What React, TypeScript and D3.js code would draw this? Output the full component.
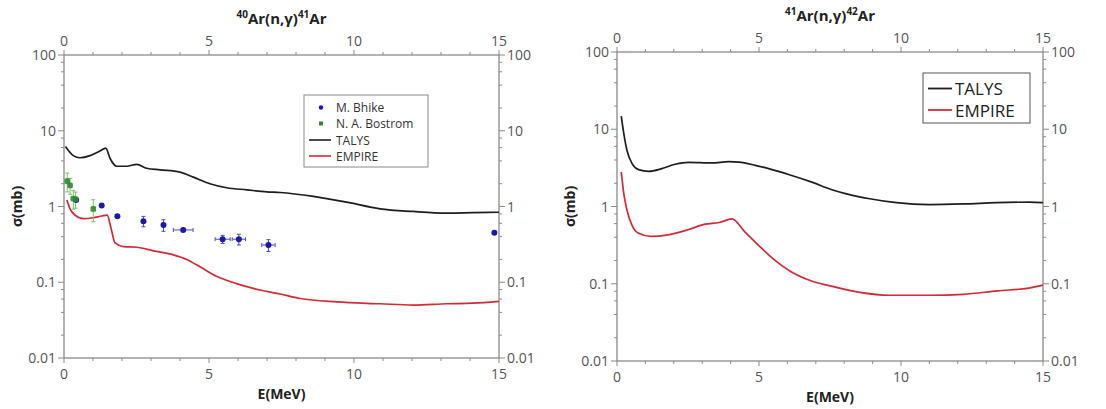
import React from "react";
import * as d3 from "d3";

// ---------- data ----------
const xTicksMajor = [0, 5, 10, 15];
const xTicksMinor = [1, 2, 3, 4, 6, 7, 8, 9, 11, 12, 13, 14];
const yTicksMajor = [0.01, 0.1, 1, 10, 100];
const yTickLabels = ["0.01", "0.1", "1", "10", "100"];
const yMinorMult = [2, 4, 6, 8];

// 40Ar(n,g)41Ar
const talys40E = [0.05, 0.32, 0.55, 0.9, 1.24, 1.44, 1.59, 1.82, 2.16, 2.51, 2.85, 3.31, 4.0, 4.46, 5.03, 5.61, 6.3, 6.99, 7.45, 8.6, 9.75, 10.9, 12.04, 13.2, 14.1, 15];
const talys40 = [6.2, 4.7, 4.4, 4.7, 5.4, 5.9, 4.3, 3.4, 3.4, 3.6, 3.2, 3.05, 2.84, 2.44, 2.0, 1.77, 1.66, 1.56, 1.53, 1.36, 1.14, 0.93, 0.86, 0.82, 0.83, 0.84];
const empire40E = [0.1, 0.21, 0.38, 0.67, 1.01, 1.3, 1.49, 1.61, 1.76, 2.05, 2.51, 3.08, 3.77, 4.23, 4.69, 5.26, 5.95, 6.76, 7.45, 8.14, 9.4, 10.9, 12.04, 13.2, 14.1, 15];
const empire40 = [1.22, 0.93, 0.77, 0.69, 0.71, 0.75, 0.77, 0.54, 0.33, 0.295, 0.29, 0.26, 0.23, 0.2, 0.16, 0.12, 0.096, 0.079, 0.07, 0.061, 0.055, 0.052, 0.05, 0.052, 0.053, 0.056];

const bhikeE = [0.42, 1.3, 1.84, 2.74, 3.43, 4.11, 5.47, 6.03, 7.05, 14.84];
const bhike = [1.22, 1.03, 0.745, 0.64, 0.57, 0.49, 0.37, 0.37, 0.31, 0.45];
const bhikeYErr = [0, 0, 0, 0.1, 0.1, 0.02, 0.045, 0.06, 0.055, 0];
const bhikeXErr = [0, 0, 0, 0.05, 0.05, 0.34, 0.26, 0.23, 0.23, 0];

const bostromE = [0.11, 0.21, 0.32, 0.4, 1.01];
const bostrom = [2.16, 1.9, 1.27, 1.25, 0.93];
const bostromYErr = [0.6, 0.45, 0.35, 0.3, 0.3];

// 41Ar(n,g)42Ar
const talys41E = [0.15, 0.23, 0.35, 0.53, 0.76, 1.11, 1.58, 2.05, 2.52, 3.34, 3.93, 4.3, 4.87, 5.34, 6.04, 6.86, 7.57, 8.08, 8.9, 9.84, 11.0, 12.2, 13.36, 14.53, 15];
const talys41 = [14.8, 9.25, 5.35, 3.59, 3.0, 2.85, 3.09, 3.52, 3.73, 3.66, 3.8, 3.75, 3.41, 3.09, 2.6, 2.07, 1.65, 1.46, 1.26, 1.12, 1.06, 1.08, 1.12, 1.14, 1.12];
const empire41E = [0.15, 0.23, 0.35, 0.53, 0.76, 1.2, 1.8, 2.5, 3.1, 3.6, 4.05, 4.5, 5.0, 5.5, 6.1, 6.8, 7.5, 8.5, 9.6, 11.0, 12.2, 13.4, 14.5, 15];
const empire41 = [2.8, 1.55, 0.9, 0.57, 0.45, 0.41, 0.43, 0.5, 0.59, 0.62, 0.69, 0.47, 0.31, 0.21, 0.145, 0.11, 0.094, 0.078, 0.071, 0.071, 0.073, 0.081, 0.088, 0.096];

// ---------- styles ----------
const FONT = "'Open Sans', 'DejaVu Sans', sans-serif";
const AXIS = "#8a8a8a";
const TICKTXT = "#555";
const TALYS_C = "#1e1e1e";
const EMPIRE_C = "#d42a35";
const BLUE = "#1a1aa6";
const GREEN = "#2f8a2f";

type PanelProps = {
  x0: number; x1: number; yTop: number; yBot: number;
  titleA: string; titleB: string; titleC: string; titleD: string;
  talysE: number[]; talysV: number[]; empireE: number[]; empireV: number[];
  points?: boolean;
};

function Panel(p: PanelProps) {
  const x = d3.scaleLinear().domain([0, 15]).range([p.x0, p.x1]);
  const y = d3.scaleLog().domain([0.01, 100]).range([p.yBot, p.yTop]);
  const line = d3
    .line<[number, number]>()
    .x((d) => x(d[0]))
    .y((d) => y(d[1]))
    .curve(d3.curveMonotoneX);
  const tal = p.talysE.map((e, i) => [e, p.talysV[i]] as [number, number]);
  const emp = p.empireE.map((e, i) => [e, p.empireV[i]] as [number, number]);
  const minorY: number[] = [];
  [0.01, 0.1, 1, 10].forEach((d) => yMinorMult.forEach((m) => minorY.push(d * m)));
  const cx = (p.x0 + p.x1) / 2;

  return (
    <g>
      <rect x={p.x0} y={p.yTop} width={p.x1 - p.x0} height={p.yBot - p.yTop} fill="none" stroke={AXIS} strokeWidth={1.3} />
      {xTicksMajor.map((t) => (
        <g key={"xm" + t}>
          <line x1={x(t)} x2={x(t)} y1={p.yBot} y2={p.yBot + 5} stroke={AXIS} />
          <line x1={x(t)} x2={x(t)} y1={p.yTop} y2={p.yTop - 5} stroke={AXIS} />
          <text x={x(t)} y={p.yBot + 21} textAnchor="middle" fontSize={14} fill={TICKTXT} fontFamily={FONT}>{t}</text>
          <text x={x(t)} y={p.yTop - 9} textAnchor="middle" fontSize={14} fill={TICKTXT} fontFamily={FONT}>{t}</text>
        </g>
      ))}
      {xTicksMinor.map((t) => (
        <g key={"xn" + t}>
          <line x1={x(t)} x2={x(t)} y1={p.yBot} y2={p.yBot + 3} stroke={AXIS} />
          <line x1={x(t)} x2={x(t)} y1={p.yTop} y2={p.yTop - 3} stroke={AXIS} />
        </g>
      ))}
      {yTicksMajor.map((t, i) => (
        <g key={"ym" + t}>
          <line x1={p.x0 - 6} x2={p.x0} y1={y(t)} y2={y(t)} stroke={AXIS} />
          <line x1={p.x1} x2={p.x1 + 6} y1={y(t)} y2={y(t)} stroke={AXIS} />
          <text x={p.x0 - 8} y={y(t) + 5} textAnchor="end" fontSize={14} fill={TICKTXT} fontFamily={FONT}>{yTickLabels[i]}</text>
          <text x={p.x1 + 8} y={y(t) + 5} textAnchor="start" fontSize={14} fill={TICKTXT} fontFamily={FONT}>{yTickLabels[i]}</text>
        </g>
      ))}
      {minorY.map((t) => (
        <g key={"yn" + t}>
          <line x1={p.x0 - 3} x2={p.x0} y1={y(t)} y2={y(t)} stroke={AXIS} />
          <line x1={p.x1} x2={p.x1 + 3} y1={y(t)} y2={y(t)} stroke={AXIS} />
        </g>
      ))}
      <text x={cx} y={p.yTop - 31} textAnchor="middle" fontSize={15} fontWeight="bold" fill="#222" fontFamily={FONT}>
        <tspan fontSize={10} dy={-6}>{p.titleA}</tspan>
        <tspan dy={6}>{p.titleB}</tspan>
        <tspan fontSize={10} dy={-6}>{p.titleC}</tspan>
        <tspan dy={6}>{p.titleD}</tspan>
      </text>
      <text x={cx} y={p.yBot + 41} textAnchor="middle" fontSize={14} fontWeight="bold" fill="#222" fontFamily={FONT}>E(MeV)</text>
      <text transform={`translate(${p.x0 - 42},${(p.yTop + p.yBot) / 2}) rotate(-90)`} textAnchor="middle" fontSize={14} fontWeight="bold" fill="#222" fontFamily={FONT}>σ(mb)</text>
      <path d={line(tal) || ""} fill="none" stroke={TALYS_C} strokeWidth={1.7} strokeLinejoin="round" />
      <path d={line(emp) || ""} fill="none" stroke={EMPIRE_C} strokeWidth={1.7} strokeLinejoin="round" />
      {p.points && (
        <g>
          {bostromE.map((e, i) => (
            <g key={"bo" + i}>
              <line x1={x(e)} x2={x(e)} y1={y(bostrom[i] + bostromYErr[i])} y2={y(bostrom[i] - bostromYErr[i])} stroke="#7cbf6a" strokeWidth={1} />
              <line x1={x(e) - 2} x2={x(e) + 2} y1={y(bostrom[i] + bostromYErr[i])} y2={y(bostrom[i] + bostromYErr[i])} stroke="#7cbf6a" />
              <line x1={x(e) - 2} x2={x(e) + 2} y1={y(bostrom[i] - bostromYErr[i])} y2={y(bostrom[i] - bostromYErr[i])} stroke="#7cbf6a" />
            </g>
          ))}
          {bhikeE.map((e, i) => (
            <g key={"bh" + i}>
              {bhikeYErr[i] > 0 && (
                <g>
                  <line x1={x(e)} x2={x(e)} y1={y(bhike[i] + bhikeYErr[i])} y2={y(bhike[i] - bhikeYErr[i])} stroke="#4a4ad0" />
                  <line x1={x(e) - 2} x2={x(e) + 2} y1={y(bhike[i] + bhikeYErr[i])} y2={y(bhike[i] + bhikeYErr[i])} stroke="#4a4ad0" />
                  <line x1={x(e) - 2} x2={x(e) + 2} y1={y(bhike[i] - bhikeYErr[i])} y2={y(bhike[i] - bhikeYErr[i])} stroke="#4a4ad0" />
                </g>
              )}
              {bhikeXErr[i] > 0 && (
                <g>
                  <line x1={x(e - bhikeXErr[i])} x2={x(e + bhikeXErr[i])} y1={y(bhike[i])} y2={y(bhike[i])} stroke="#4a4ad0" />
                  <line x1={x(e - bhikeXErr[i])} x2={x(e - bhikeXErr[i])} y1={y(bhike[i]) - 2} y2={y(bhike[i]) + 2} stroke="#4a4ad0" />
                  <line x1={x(e + bhikeXErr[i])} x2={x(e + bhikeXErr[i])} y1={y(bhike[i]) - 2} y2={y(bhike[i]) + 2} stroke="#4a4ad0" />
                </g>
              )}
              <circle cx={x(e)} cy={y(bhike[i])} r={3} fill={BLUE} />
            </g>
          ))}
          {bostromE.map((e, i) => (
            <rect key={"bs" + i} x={x(e) - 2.8} y={y(bostrom[i]) - 2.8} width={5.6} height={5.6} rx={1.5} fill={GREEN} opacity={0.9} />
          ))}
        </g>
      )}
    </g>
  );
}

export default function App() {
  return (
    <svg width={1106} height={409} style={{ position: "absolute", left: 0, top: 0, background: "#fff" }}>
      <rect width={1106} height={409} fill="#fff" />
      <Panel x0={64} x1={499} yTop={55} yBot={358} titleA="40" titleB="Ar(n,γ)" titleC="41" titleD="Ar"
        talysE={talys40E} talysV={talys40} empireE={empire40E} empireV={empire40} points />
      <Panel x0={617} x1={1043} yTop={52} yBot={361} titleA="41" titleB="Ar(n,γ)" titleC="42" titleD="Ar"
        talysE={talys41E} talysV={talys41} empireE={empire41E} empireV={empire41} />
      <g fontFamily={FONT} fontSize={12} fill="#333">
        <rect x={304} y={95} width={124} height={72} fill="#fff" stroke={AXIS} strokeWidth={1} />
        <circle cx={321} cy={107.5} r={2.2} fill={BLUE} />
        <text x={336} y={112}>M. Bhike</text>
        <rect x={319} y={121.5} width={4} height={4} fill={GREEN} />
        <text x={336} y={128}>N. A. Bostrom</text>
        <line x1={309} x2={331} y1={140} y2={140} stroke={TALYS_C} strokeWidth={1.6} />
        <text x={336} y={144.5}>TALYS</text>
        <line x1={309} x2={331} y1={156} y2={156} stroke={EMPIRE_C} strokeWidth={1.6} />
        <text x={336} y={160.5}>EMPIRE</text>
      </g>
      <g fontFamily={FONT} fontSize={17} fill="#222">
        <rect x={923} y={73} width={107} height={50} fill="#fff" stroke="#555" strokeWidth={1} />
        <line x1={928} x2={952} y1={88.5} y2={88.5} stroke={TALYS_C} strokeWidth={1.8} />
        <text x={955} y={95}>TALYS</text>
        <line x1={928} x2={952} y1={110} y2={110} stroke={EMPIRE_C} strokeWidth={1.8} />
        <text x={955} y={116.5}>EMPIRE</text>
      </g>
    </svg>
  );
}
